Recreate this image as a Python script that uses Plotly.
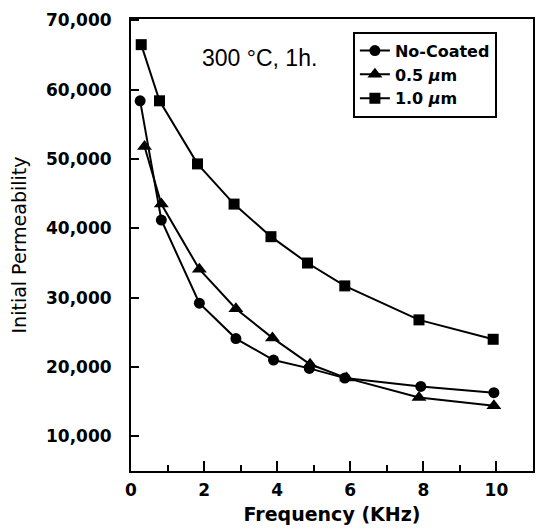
import plotly.graph_objects as go

# Data
freq_nc = [0.25, 0.83, 1.87, 2.87, 3.9, 4.88, 5.85, 7.93, 9.93]
perm_nc = [58400, 41200, 29200, 24100, 21000, 19800, 18400, 17200, 16300]

freq_05 = [0.37, 0.83, 1.87, 2.87, 3.87, 4.9, 5.9, 7.88, 9.93]
perm_05 = [51800, 43500, 34100, 28400, 24200, 20400, 18400, 15600, 14400]

freq_10 = [0.28, 0.78, 1.82, 2.82, 3.83, 4.83, 5.85, 7.88, 9.91]
perm_10 = [66500, 58400, 49300, 43500, 38800, 35000, 31700, 26800, 24000]

series_names = ["No-Coated", "0.5 <i>µ</i>m", "1.0 <i>µ</i>m"]
series_symbols = ["circle", "triangle-up", "square"]
series_sizes = [11, 13, 11]

x_ticks = [0, 2, 4, 6, 8, 10]
y_ticks = [10000, 20000, 30000, 40000, 50000, 60000, 70000]

fig = go.Figure()
for xs, ys, name, sym, sz in zip(
    [freq_nc, freq_05, freq_10],
    [perm_nc, perm_05, perm_10],
    series_names, series_symbols, series_sizes,
):
    fig.add_trace(go.Scatter(
        x=xs, y=ys, name=name, mode="lines+markers",
        line=dict(color="black", width=2),
        marker=dict(symbol=sym, size=sz, color="black"),
    ))

tickfont = dict(family="DejaVu Sans", size=17, color="black", weight="bold")

fig.update_layout(
    width=545, height=532,
    margin=dict(l=131, r=10, t=13, b=59),
    paper_bgcolor="white", plot_bgcolor="white",
    showlegend=True,
    legend=dict(
        x=0.552, y=0.972, xanchor="left", yanchor="top",
        bordercolor="black", borderwidth=2, bgcolor="white",
        font=dict(family="DejaVu Sans", size=16, color="black", weight="bold"),
        itemwidth=30, tracegroupgap=0,
    ),
    xaxis=dict(
        range=[0, 11.0], tickvals=x_ticks, ticks="inside", ticklen=10, tickwidth=2,
        tickcolor="black", showline=True, linewidth=2, linecolor="black", mirror=True,
        showgrid=False, zeroline=False, tickfont=tickfont, ticklabelstandoff=3,
        minor=dict(dtick=1, ticks="inside", ticklen=6, tickwidth=2, tickcolor="black", showgrid=False),
        title=dict(text="Frequency (KHz)", standoff=8,
                   font=dict(family="DejaVu Sans", size=19, color="black", weight="bold")),
    ),
    yaxis=dict(
        range=[5000, 70200], tickvals=y_ticks, tickformat=",", ticks="inside", ticklen=8,
        tickwidth=2, tickcolor="black", showline=True, linewidth=2, linecolor="black",
        mirror=True, showgrid=False, zeroline=False, tickfont=tickfont, ticklabelstandoff=14,
        title=dict(text="Initial Permeability", standoff=14,
                   font=dict(family="DejaVu Sans", size=19, color="black")),
    ),
    annotations=[dict(
        text="300 °C, 1h.", xref="paper", yref="paper", x=0.319, y=0.913,
        xanchor="center", yanchor="middle",
        showarrow=False, font=dict(family="Liberation Sans", size=23, color="black"),
    )],
)

fig.write_html("out.html")
